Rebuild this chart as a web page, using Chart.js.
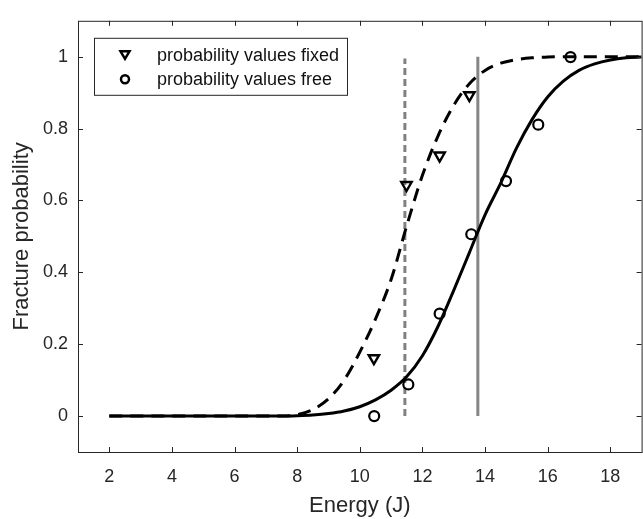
<!DOCTYPE html>
<html lang="en">
<head>
  <meta charset="UTF-8" />
  <title>Fracture probability vs energy</title>
  <script src="https://cdn.jsdelivr.net/npm/chart.js"></script>
  <style>
    html, body { margin: 0; padding: 0; background: #fff; overflow: hidden; }
    #wrap { position: relative; width: 650px; height: 519px; }
  </style>
</head>
<body>
  <div id="wrap"><canvas id="chart"></canvas></div>

  <script>
    // measured points
    const fixedEnergy = [10.45, 11.49, 12.55, 13.5];
    const fixedProb = [0.161, 0.643, 0.725, 0.893];
    const freeEnergy = [10.46, 11.55, 12.55, 13.56, 14.67, 15.7, 16.73];
    const freeProb = [0.0, 0.088, 0.285, 0.506, 0.654, 0.811, 0.999];

    // fitted curves, every 0.5 J
    const curveEnergy = [2, 2.5, 3, 3.5, 4, 4.5, 5, 5.5, 6, 6.5, 7, 7.5, 8, 8.5, 9, 9.5, 10, 10.5,
      11, 11.5, 12, 12.5, 13, 13.5, 14, 14.5, 15, 15.5, 16, 16.5, 17, 17.5, 18, 18.5, 19];
    const freeCurve = [0, 0, 0, 0, 0, 0, 0, 0, 0, 0, 0, 0, 0.001, 0.003, 0.007, 0.014, 0.026, 0.045,
      0.072, 0.11, 0.168, 0.25, 0.35, 0.455, 0.56, 0.648, 0.745, 0.825, 0.888, 0.932, 0.962, 0.98, 0.991, 0.997, 0.999];
    const fixedCurve = [0, 0, 0, 0, 0, 0, 0, 0, 0, 0, 0, 0, 0.004, 0.018, 0.048, 0.1, 0.178, 0.27,
      0.38, 0.53, 0.67, 0.78, 0.865, 0.925, 0.962, 0.982, 0.992, 0.997, 0.999, 1, 1, 1, 1, 1, 1];

    // 50% energies (vertical markers)
    const e50Fixed = 11.44;
    const e50Free = 13.77;

    const xTicks = [2, 4, 6, 8, 10, 12, 14, 16, 18];
    const yTicks = [0, 0.2, 0.4, 0.6, 0.8, 1];
    const legendLabels = ['probability values fixed', 'probability values free'];

    const axisColor = '#262626';
    const fontFamily = '"Liberation Sans", Arial, Helvetica, sans-serif';

    const toPts = (xs, ys) => xs.map((x, i) => ({ x: x, y: ys[i] }));

    // box with inward tick marks + legend, MATLAB style
    const framePlugin = {
      id: 'frame',
      afterDraw(chart) {
        const { ctx, chartArea: a, scales } = chart;
        ctx.save();
        ctx.strokeStyle = axisColor;
        ctx.lineWidth = 1;
        ctx.strokeRect(a.left + 0.5, a.top + 0.5, a.right - a.left, a.bottom - a.top);
        ctx.beginPath();
        xTicks.forEach(v => {
          const px = Math.round(scales.x.getPixelForValue(v)) + 0.5;
          ctx.moveTo(px, a.bottom); ctx.lineTo(px, a.bottom - 5);
          ctx.moveTo(px, a.top); ctx.lineTo(px, a.top + 5);
        });
        yTicks.forEach(v => {
          const py = Math.round(scales.y.getPixelForValue(v)) + 0.5;
          ctx.moveTo(a.left, py); ctx.lineTo(a.left + 5, py);
          ctx.moveTo(a.right, py); ctx.lineTo(a.right - 5, py);
        });
        ctx.stroke();

        // legend
        const lx = a.left + 16, ly = a.top + 17, lw = 253, lh = 57;
        ctx.fillStyle = '#fff';
        ctx.fillRect(lx, ly, lw, lh);
        ctx.strokeRect(lx + 0.5, ly + 0.5, lw, lh);
        ctx.font = '18px ' + fontFamily;
        ctx.textBaseline = 'middle';
        ctx.textAlign = 'left';
        legendLabels.forEach((txt, i) => {
          const cy = ly + 17 + i * 24.5;
          const cx = lx + 31;
          ctx.strokeStyle = '#000';
          ctx.lineWidth = 2.5;
          ctx.beginPath();
          if (i === 0) {
            ctx.moveTo(cx - 4.5, cy - 3.5);
            ctx.lineTo(cx + 4.5, cy - 3.5);
            ctx.lineTo(cx, cy + 4);
            ctx.closePath();
          } else {
            ctx.arc(cx, cy, 4, 0, Math.PI * 2);
          }
          ctx.stroke();
          ctx.fillStyle = '#111';
          ctx.fillText(txt, lx + 63, cy + 1);
        });
        ctx.restore();
      }
    };

    const setTicks = list => scale => { scale.ticks = list.map(v => ({ value: v })); };
    const plainLabel = v => String(Math.round(v * 10) / 10);

    new Chart(document.getElementById('chart'), {
      type: 'scatter',
      data: {
        datasets: [
          {
            label: legendLabels[0],
            data: toPts(fixedEnergy, fixedProb),
            pointStyle: 'triangle',
            rotation: 180,
            radius: 6,
            borderWidth: 2.4,
            borderColor: '#000',
            backgroundColor: 'rgba(0,0,0,0)',
            order: 0
          },
          {
            label: legendLabels[1],
            data: toPts(freeEnergy, freeProb),
            pointStyle: 'circle',
            radius: 5,
            borderWidth: 2.2,
            borderColor: '#000',
            backgroundColor: 'rgba(0,0,0,0)',
            order: 0
          },
          {
            label: 'fit fixed',
            data: toPts(curveEnergy, fixedCurve),
            showLine: true,
            pointRadius: 0,
            borderColor: '#000',
            borderWidth: 3,
            borderDash: [13, 8],
            cubicInterpolationMode: 'monotone',
            order: 1
          },
          {
            label: 'fit free',
            data: toPts(curveEnergy, freeCurve),
            showLine: true,
            pointRadius: 0,
            borderColor: '#000',
            borderWidth: 3,
            cubicInterpolationMode: 'monotone',
            order: 1
          },
          {
            label: 'E50 fixed',
            data: [{ x: e50Fixed, y: 0 }, { x: e50Fixed, y: 0.995 }],
            showLine: true,
            pointRadius: 0,
            borderColor: '#808080',
            borderWidth: 3,
            borderDash: [7, 4],
            order: 2
          },
          {
            label: 'E50 free',
            data: [{ x: e50Free, y: 0 }, { x: e50Free, y: 1.0 }],
            showLine: true,
            pointRadius: 0,
            borderColor: '#858585',
            borderWidth: 3,
            order: 2
          }
        ]
      },
      options: {
        responsive: true,
        maintainAspectRatio: false,
        animation: false,
        layout: { padding: { top: 13, right: 5, left: 0, bottom: 0 } },
        plugins: { legend: { display: false }, tooltip: { enabled: false } },
        scales: {
          x: {
            type: 'linear',
            min: 1,
            max: 19,
            afterBuildTicks: setTicks(xTicks),
            afterFit: s => { s.height = 67; },
            grid: { display: false, drawTicks: false },
            border: { display: false },
            ticks: { color: axisColor, padding: 14, callback: plainLabel, font: { family: fontFamily, size: 18 } },
            title: {
              display: true,
              text: 'Energy (J)',
              color: axisColor,
              padding: { top: 0, bottom: 0 },
              font: { family: fontFamily, size: 22 }
            }
          },
          y: {
            type: 'linear',
            min: -0.1,
            max: 1.1,
            afterBuildTicks: setTicks(yTicks),
            afterFit: s => { s.width = 78; },
            grid: { display: false, drawTicks: false },
            border: { display: false },
            ticks: { color: axisColor, padding: 10, callback: plainLabel, font: { family: fontFamily, size: 18 } },
            title: {
              display: true,
              text: 'Fracture probability',
              color: axisColor,
              padding: { top: 9, bottom: 0 },
              font: { family: fontFamily, size: 22 }
            }
          }
        }
      },
      plugins: [framePlugin]
    });
  </script>
</body>
</html>
